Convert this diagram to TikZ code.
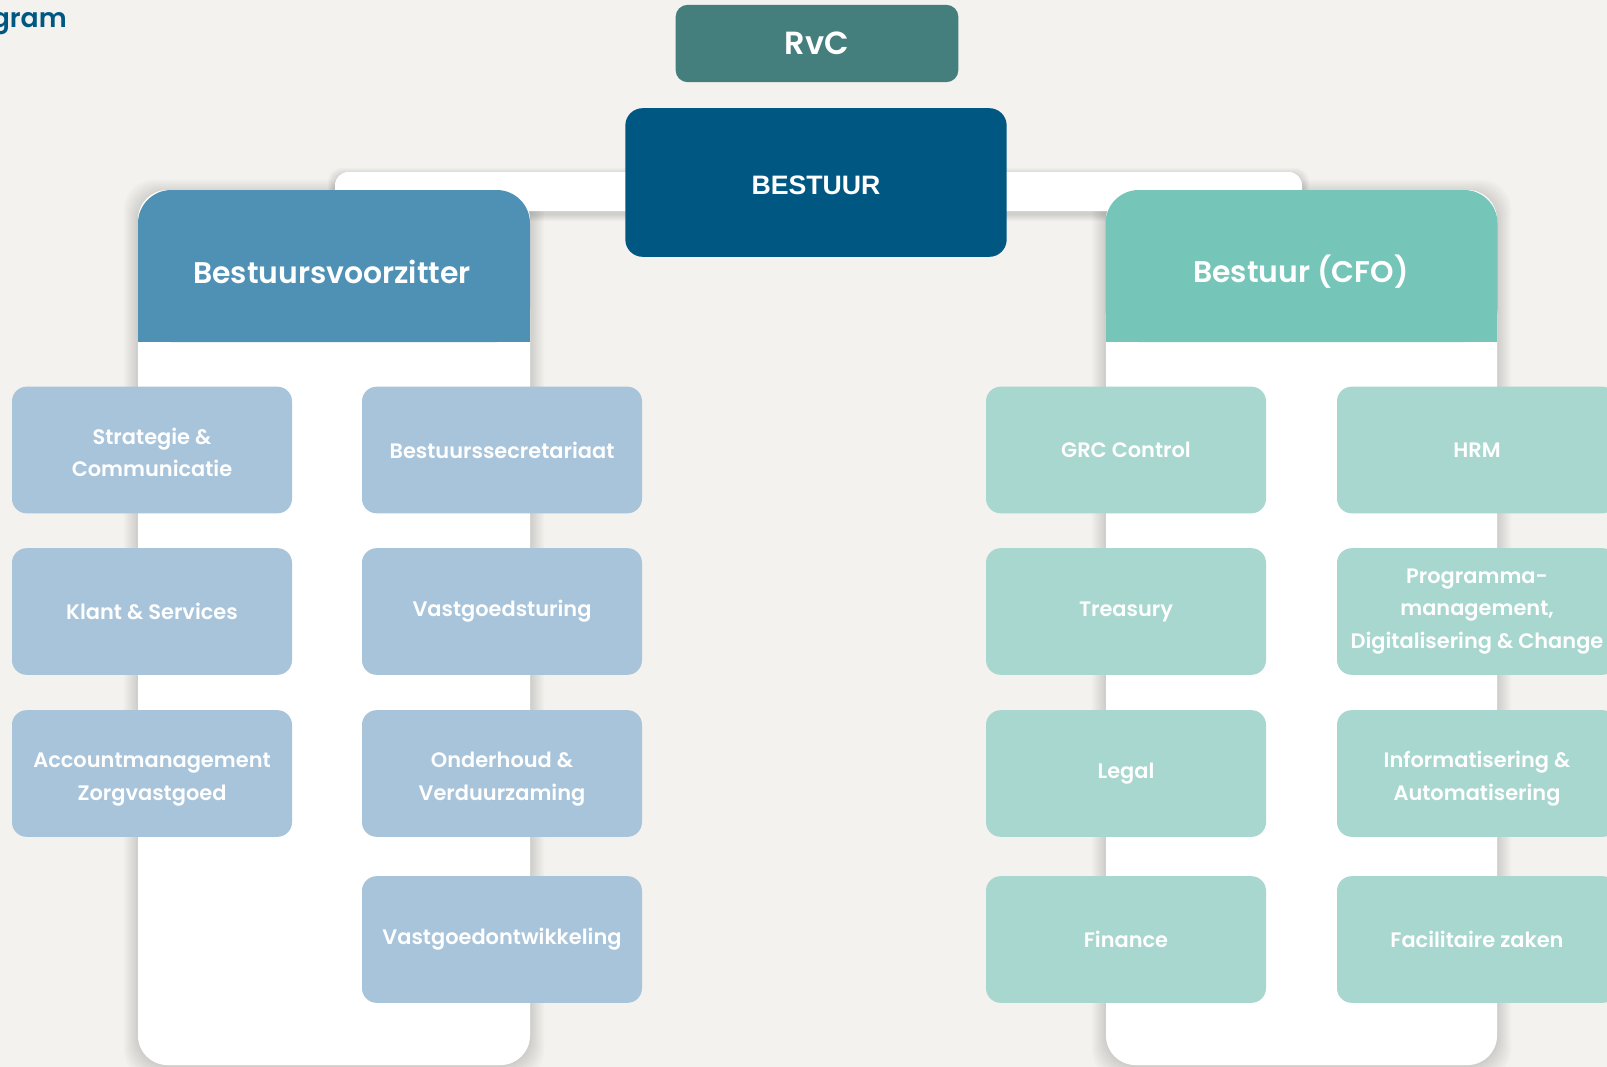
\documentclass[tikz,border=0pt]{standalone}
\usepackage{fontspec}
\setmainfont{Poppins}[BoldFont={* SemiBold}]
\newfontfamily\arialfam{Liberation Sans}
\definecolor{bg}{HTML}{F3F2EE}
\definecolor{rvc}{HTML}{447F7E}
\definecolor{bestuur}{HTML}{005882}
\definecolor{hdrL}{HTML}{4F91B5}
\definecolor{hdrR}{HTML}{76C5B9}
\definecolor{boxL}{HTML}{A8C4DA}
\definecolor{boxR}{HTML}{A8D7CF}
\definecolor{title}{HTML}{005882}
\tikzset{
  unitbox/.style={minimum width=210pt, minimum height=95pt, inner sep=0pt, align=center,
    rounded corners=11pt, text=white, font=\fontsize{15.7}{24.3}\selectfont\bfseries},
  boxl/.style={unitbox, fill=boxL},
  boxr/.style={unitbox, fill=boxR},
  twoline/.style={text depth=0pt, text height=40pt},
  hdr/.style={minimum width=294pt, minimum height=114pt, inner sep=0pt, rounded corners=25pt},
  hdrtext/.style={inner sep=0pt, text=white, font=\fontsize{22.4}{26}\selectfont\bfseries},
  softshadow/.style={fill=black, opacity=0.018},
}
\begin{document}
\begin{tikzpicture}[x=0.75pt,y=-0.75pt]
\useasboundingbox (0,0) rectangle (1607,1067);
\fill[bg] (0,0) rectangle (1607,1067);

% title fragment
\node[anchor=base east, inner sep=0pt, text=title, font=\fontsize{20}{24}\selectfont\bfseries] (ttl) at (67,27) {Organogram};

% soft shadows
\foreach \d in {2,4,...,14}{
  \fill[softshadow, rounded corners=22pt] (138-\d,190-\d+4) rectangle (530+\d,1065+\d);
  \fill[softshadow, rounded corners=22pt] (1106-\d,190-\d+4) rectangle (1497+\d,1065+\d);
  \fill[softshadow, rounded corners=10pt] (335-\d/2,172-\d/2+3) rectangle (1302+\d/2,211+\d/2+3);
}

% white connecting bar
\fill[white, rounded corners=10pt] (335,172) rectangle (1302,211);

% white columns
\fill[white, rounded corners=22pt] (138,190) rectangle (530,1065);
\fill[white, rounded corners=22pt] (1106,190) rectangle (1497,1065);

% headers
\fill[hdrL] (138,270) rectangle (530,342);
\node[hdr, fill=hdrL] (voorz) at (334,266) {};
\node[hdrtext] (voorzt) at (332,272) {Bestuursvoorzitter};
\fill[hdrR] (1106,270) rectangle (1497,342);
\node[hdr, fill=hdrR] (cfo) at (1301.5,266) {};
\node[hdrtext] (cfot) at (1301,272) {Bestuur (CFO)};

% top boxes
\node[fill=rvc, minimum width=212pt, minimum height=58pt, inner sep=0pt, rounded corners=9pt,
  text=white, font=\fontsize{24}{28}\selectfont\bfseries] (rvc) at (817,43.5) {RvC};
\node[fill=bestuur, minimum width=286pt, minimum height=111.5pt, inner sep=0pt, rounded corners=13pt] (bestuur) at (816,182.5) {};
\node[inner sep=0pt, text=white, font=\arialfam\fontsize{20}{24}\selectfont\bfseries] (bestuurt) at (816,185) {BESTUUR};

% left column boxes
\node[boxl, twoline] (strat) at (152,450) {Strategie \&\\Communicatie};
\node[boxl] (klant) at (152,611.5) {Klant \& Services};
\node[boxl, twoline] (acct) at (152,773.5) {Accountmanagement\\Zorgvastgoed};
\node[boxl] (secr) at (502,450) {Bestuurssecretariaat};
\node[boxl] (sturing) at (502,611.5) {Vastgoedsturing};
\node[boxl, twoline] (onderh) at (502,773.5) {Onderhoud \&\\Verduurzaming};
\node[boxl] (ontw) at (502,939.5) {Vastgoedontwikkeling};

% right column boxes
\node[boxr] (grc) at (1126,450) {GRC Control};
\node[boxr] (treas) at (1126,611.5) {Treasury};
\node[boxr] (legal) at (1126,773.5) {Legal};
\node[boxr] (fin) at (1126,939.5) {Finance};
\node[boxr] (hrm) at (1477,450) {HRM};
\node[boxr] (prog) at (1477,611.5) {Programma-\\management,\\Digitalisering \& Change};
\node[boxr, twoline] (info) at (1477,773.5) {Informatisering \&\\Automatisering};
\node[boxr] (fac) at (1477,939.5) {Facilitaire zaken};
\end{tikzpicture}
\end{document}
